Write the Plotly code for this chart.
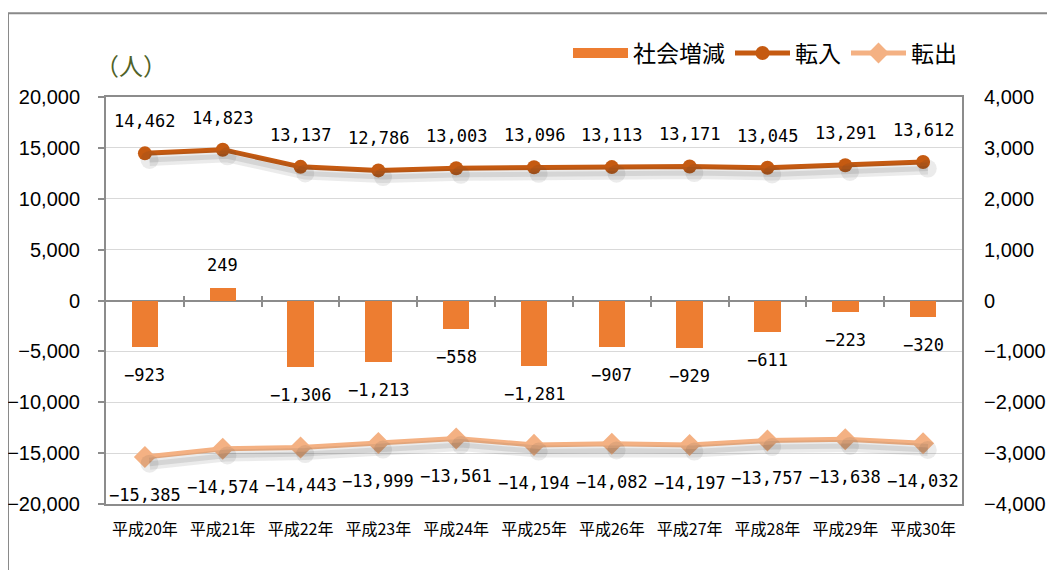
import plotly.graph_objects as go

categories = ["平成20年", "平成21年", "平成22年", "平成23年", "平成24年", "平成25年",
              "平成26年", "平成27年", "平成28年", "平成29年", "平成30年"]
social_change = [-923, 249, -1306, -1213, -558, -1281, -907, -929, -611, -223, -320]
move_in = [14462, 14823, 13137, 12786, 13003, 13096, 13113, 13171, 13045, 13291, 13612]
move_out = [-15385, -14574, -14443, -13999, -13561, -14194, -14082, -14197, -13757, -13638, -14032]
left_ticks = [-20000, -15000, -10000, -5000, 0, 5000, 10000, 15000, 20000]
right_ticks = [-4000, -3000, -2000, -1000, 0, 1000, 2000, 3000, 4000]

BAR_C = "#ED7D31"
IN_C = "#C55A11"
OUT_C = "#F4B183"
AX_C = "#8C8C8C"
LBL_FONT = dict(family="DejaVu Sans Mono, Liberation Mono, monospace", size=17, color="#000")

xs = list(range(len(categories)))
XR = [-0.5, len(categories) - 0.5]


def fmt(v):
    return f"{v:,}".replace("-", "\u2212")


fig = go.Figure()

# soft shadows under the lines (derived from the data)
for vals, xa in ((move_in, "x2"), (move_out, "x3")):
    sx = [x + 0.06 for x in xs]
    sy = [v - 650 for v in vals]
    fig.add_trace(go.Scatter(x=sx, y=sy, xaxis=xa, mode="lines+markers", showlegend=False, hoverinfo="skip",
                             line=dict(color="rgba(60,60,60,0.10)", width=12),
                             marker=dict(size=18, color="rgba(60,60,60,0.10)")))
    fig.add_trace(go.Scatter(x=sx, y=sy, xaxis=xa, mode="lines", showlegend=False, hoverinfo="skip",
                             line=dict(color="rgba(60,60,60,0.12)", width=5)))

fig.add_trace(go.Bar(x=xs, y=social_change, name="社会増減", yaxis="y2", marker_color=BAR_C,
                     width=0.34, marker_line_width=0, showlegend=False))
# legend entry for the bars drawn as a wide rectangle
fig.add_trace(go.Scatter(x=[None], y=[None], name="社会増減", mode="lines",
                         line=dict(color=BAR_C, width=14)))
fig.add_trace(go.Scatter(x=xs, y=move_in, name="転入", mode="lines+markers",
                         line=dict(color=IN_C, width=5),
                         marker=dict(symbol="circle", size=14, color=IN_C)))
fig.add_trace(go.Scatter(x=xs, y=move_out, name="転出", mode="lines+markers",
                         line=dict(color=OUT_C, width=5),
                         marker=dict(symbol="diamond", size=17, color=OUT_C)))

annotations = []
for x, v in zip(xs, move_in):
    annotations.append(dict(x=x, y=v, xref="x", yref="y", text=fmt(v), showarrow=False,
                            yshift=32, font=LBL_FONT))
for x, v in zip(xs, move_out):
    annotations.append(dict(x=x, y=v, xref="x", yref="y", text=fmt(v), showarrow=False,
                            yshift=-38, font=LBL_FONT))
for x, v in zip(xs, social_change):
    annotations.append(dict(x=x, y=v, xref="x", yref="y2", text=fmt(v), showarrow=False,
                            yshift=(23 if v > 0 else -28), font=LBL_FONT))
annotations.append(dict(x=0.029, y=1.079, xref="paper", yref="paper", text="（人）", showarrow=False,
                        xanchor="center", yanchor="middle",
                        font=dict(family="Noto Sans CJK JP", size=24, color="#4F6228")))

fig.update_layout(
    width=1055, height=570,
    margin=dict(l=98, r=101, t=89, b=74, autoexpand=False),
    paper_bgcolor="white", plot_bgcolor="white",
    font=dict(family="Liberation Sans, Arial, sans-serif", color="#000"),
    showlegend=True,
    legend=dict(orientation="h", x=1.0, xanchor="right", y=1.108, yanchor="middle",
                font=dict(family="Noto Sans CJK JP", size=23, color="#000"),
                itemwidth=55, tracegroupgap=0, bgcolor="rgba(0,0,0,0)"),
    annotations=annotations,
    bargap=0,
    xaxis=dict(range=XR, tickvals=xs, ticktext=categories, automargin=False,
               showgrid=False, zeroline=False, showline=True, linecolor=AX_C, linewidth=2,
               mirror=True, ticks="", ticklabelstandoff=10,
               tickfont=dict(family="Noto Sans CJK JP", size=16, color="#000")),
    xaxis2=dict(overlaying="x", anchor="free", position=0.5, range=XR, automargin=False,
                tickvals=[x + 0.5 for x in xs[:-1]], ticks="outside", ticklen=5, tickwidth=2,
                tickcolor=AX_C, showticklabels=False, showgrid=False, zeroline=False, showline=False),
    xaxis3=dict(overlaying="x", anchor="free", position=0.5, side="top", range=XR, automargin=False,
                tickvals=[x + 0.5 for x in xs[:-1]], ticks="outside", ticklen=5, tickwidth=2,
                tickcolor=AX_C, showticklabels=False, showgrid=False, zeroline=False, showline=False),
    yaxis=dict(range=[-20000, 20000], tickvals=left_ticks, tickformat=",", showgrid=True, automargin=False,
               gridcolor="#D9D9D9", gridwidth=1, zeroline=True, zerolinecolor=AX_C, zerolinewidth=2,
               showline=True, linecolor=AX_C, linewidth=2, mirror=True,
               ticks="outside", ticklen=6, tickwidth=2, tickcolor=AX_C, ticklabelstandoff=14,
               tickfont=dict(size=20, color="#000")),
    yaxis2=dict(range=[-4000, 4000], tickvals=right_ticks, tickformat=",", overlaying="y", side="right",
                automargin=False,
                showgrid=False, zeroline=False, showline=False, ticks="", ticklabelstandoff=21,
                tickfont=dict(size=20, color="#000")),
    shapes=[dict(type="rect", xref="paper", yref="paper", x0=-0.1145, x1=1.3, y0=-0.5, y1=1.206,
                 line=dict(color="#898989", width=2), fillcolor="rgba(0,0,0,0)", layer="below")],
)

fig.write_html("out.html")
